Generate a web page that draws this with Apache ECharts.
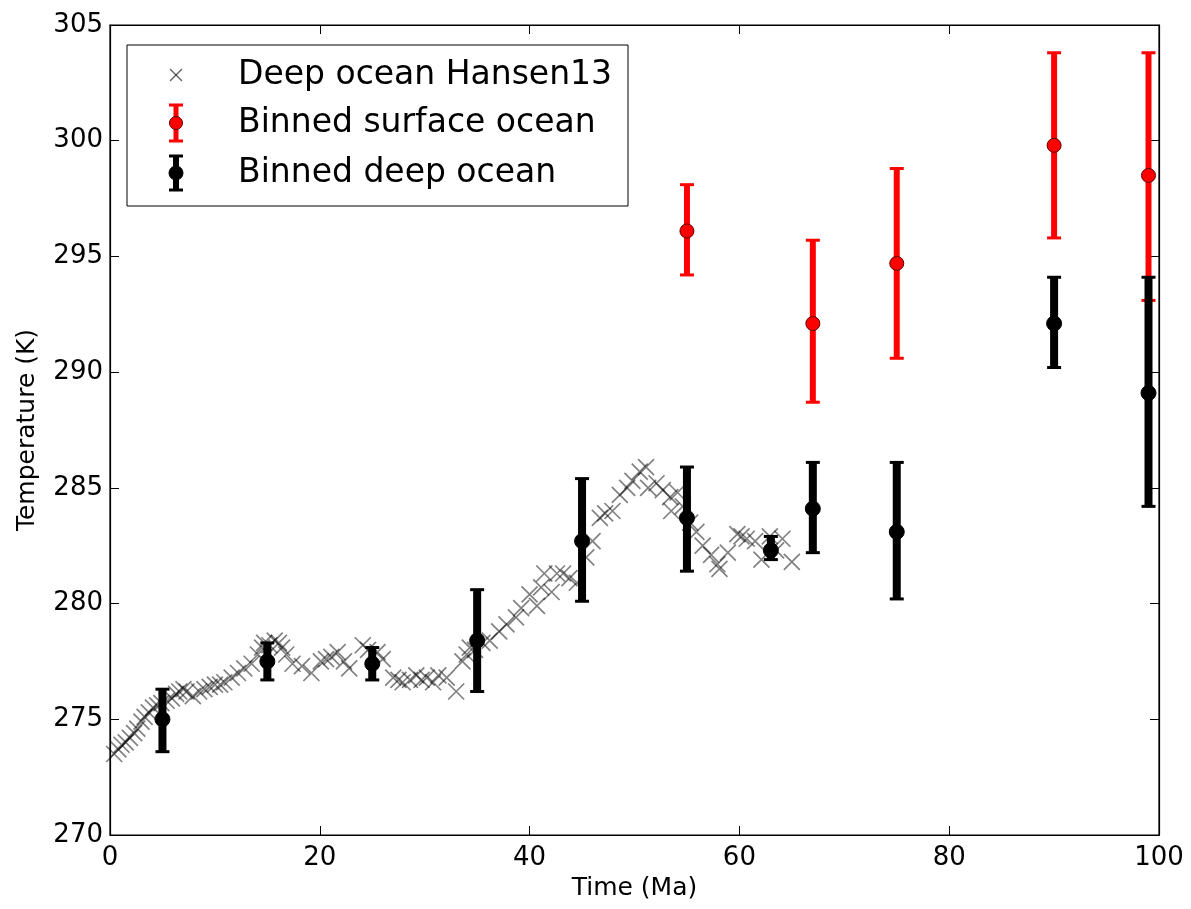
<!DOCTYPE html>
<html>
<head>
<meta charset="utf-8">
<script src="https://cdn.jsdelivr.net/npm/echarts@6/dist/echarts.min.js"></script>
<style>
html,body{margin:0;padding:0;background:#fff;}
#chart{width:1191px;height:909px;}
</style>
</head>
<body>
<div id="chart"></div>
<script>
// ---- Data ----
const xTicks = [0, 20, 40, 60, 80, 100];
const yTicks = [270, 275, 280, 285, 290, 295, 300, 305];

// Deep ocean Hansen13 (age Ma, temperature K)
const hansenAge = [0.4,0.8,1.1,1.5,1.9,2.3,2.6,3.0,3.3,3.7,4.1,4.5,4.9,5.4,5.9,6.3,6.6,7.0,7.3,7.9,8.5,9.0,9.5,10.0,10.5,10.9,11.6,12.2,12.8,13.5,14.1,14.5,14.7,15.2,15.7,16.1,16.4,16.8,17.4,18.3,19.2,20.1,20.6,21.1,21.7,22.3,22.8,24.1,24.6,25.5,26.0,27.0,27.5,27.9,28.6,29.2,29.7,30.2,30.8,31.3,32.1,33.0,33.6,34.0,34.3,34.8,35.5,36.2,37.1,37.8,38.7,39.2,40.0,40.7,41.1,41.4,42.1,42.6,43.2,43.8,44.5,45.4,46.0,46.7,47.2,47.9,48.6,49.3,49.8,50.5,51.1,51.3,52.1,52.7,53.4,53.5,54.1,54.6,55.3,55.9,56.5,57.3,57.9,58.1,58.9,59.8,60.2,60.7,61.5,62.1,62.9,63.5,64.1,65.0];
const hansenTemp = [273.5,273.7,273.9,274.0,274.2,274.4,274.6,274.9,275.1,275.3,275.5,275.6,275.7,275.8,275.9,276.1,276.2,276.3,276.2,276.0,276.2,276.3,276.4,276.5,276.5,276.6,276.8,277.0,277.2,277.4,277.8,278.1,278.3,278.2,278.4,278.3,278.1,277.8,277.4,277.3,277.0,277.5,277.6,277.7,277.9,277.5,277.2,278.2,278.0,277.9,277.6,276.8,276.7,276.6,276.7,276.9,276.7,276.8,276.6,276.9,276.8,276.2,277.5,277.8,278.1,278.0,278.3,278.4,278.8,279.1,279.4,279.8,280.4,279.9,280.7,281.3,280.5,281.3,281.3,281.1,280.9,282.0,282.7,283.7,283.9,284.0,284.7,285.0,285.3,285.7,285.9,285.0,285.2,284.9,284.6,284.0,284.8,284.2,283.5,283.1,282.5,282.1,281.7,281.5,282.2,283.0,282.9,282.8,282.7,281.9,282.9,282.3,282.8,281.8];

// Binned surface ocean
const surfAge  = [55, 67, 75, 90, 99];
const surfTemp = [296.1, 292.1, 294.7, 299.8, 298.5];
const surfLo   = [294.2, 288.7, 290.6, 295.8, 293.1];
const surfHi   = [298.1, 295.7, 298.8, 303.8, 303.8];

// Binned deep ocean
const deepAge  = [5, 15, 25, 35, 45, 55, 63, 67, 75, 90, 99];
const deepTemp = [275.0, 277.5, 277.4, 278.4, 282.7, 283.7, 282.3, 284.1, 283.1, 292.1, 289.1];
const deepLo   = [273.6, 276.7, 276.7, 276.2, 280.1, 281.4, 281.9, 282.2, 280.2, 290.2, 284.2];
const deepHi   = [276.3, 278.3, 278.1, 280.6, 285.4, 285.9, 282.9, 286.1, 286.1, 294.1, 294.1];

const legendLabels = ['Deep ocean Hansen13', 'Binned surface ocean', 'Binned deep ocean'];

// ---- Chart ----
const FONT = 'DejaVu Sans';
const chart = echarts.init(document.getElementById('chart'), null, {renderer: 'canvas'});

function errorBarRenderer(opts) {
  return function (params, api) {
    const x = api.value(0), y = api.value(1), lo = api.value(2), hi = api.value(3);
    const pLo = api.coord([x, lo]);
    const pHi = api.coord([x, hi]);
    const p = api.coord([x, y]);
    const cw = opts.capWidth / 2;
    return {
      type: 'group',
      children: [
        {type: 'line', shape: {x1: pLo[0], y1: pLo[1], x2: pHi[0], y2: pHi[1]},
          style: {stroke: opts.color, lineWidth: opts.barWidth}},
        {type: 'line', shape: {x1: pLo[0] - cw, y1: pLo[1], x2: pLo[0] + cw, y2: pLo[1]},
          style: {stroke: opts.color, lineWidth: opts.capThick}},
        {type: 'line', shape: {x1: pHi[0] - cw, y1: pHi[1], x2: pHi[0] + cw, y2: pHi[1]},
          style: {stroke: opts.color, lineWidth: opts.capThick}},
        {type: 'circle', shape: {cx: p[0], cy: p[1], r: opts.r},
          style: {fill: opts.fill, stroke: opts.edge, lineWidth: 1}}
      ]
    };
  };
}

const L = {x: 127, y: 45, w: 501, h: 161};
const rowY = [75, 123, 173];
const iconX = 176, textX = 238;

const option = {
  backgroundColor: '#fff',
  animation: false,
  grid: {left: 110, right: 32, top: 25, bottom: 74, show: true, borderColor: '#000', borderWidth: 1.2},
  xAxis: [{
    type: 'value', min: 0, max: 100, interval: 20, position: 'bottom',
    name: 'Time (Ma)', nameLocation: 'middle', nameGap: 40,
    nameTextStyle: {fontFamily: FONT, fontSize: 25, color: '#000'},
    axisLine: {show: true, onZero: false, lineStyle: {color: '#000', width: 1.2}},
    axisTick: {show: true, inside: true, length: 9, lineStyle: {color: '#000', width: 1}},
    axisLabel: {fontFamily: FONT, fontSize: 26, color: '#000', margin: 10},
    splitLine: {show: false}
  }, {
    type: 'value', min: 0, max: 100, interval: 20, position: 'top',
    axisLine: {show: true, onZero: false, lineStyle: {color: '#000', width: 1.2}},
    axisTick: {show: true, inside: true, length: 9, lineStyle: {color: '#000', width: 1}},
    axisLabel: {show: false}, splitLine: {show: false}
  }],
  yAxis: [{
    type: 'value', min: 270, max: 305, interval: 5, position: 'left',
    name: 'Temperature (K)', nameLocation: 'middle', nameGap: 70, nameRotate: 90,
    nameTextStyle: {fontFamily: FONT, fontSize: 25, color: '#000'},
    axisLine: {show: true, onZero: false, lineStyle: {color: '#000', width: 1.2}},
    axisTick: {show: true, inside: true, length: 9, lineStyle: {color: '#000', width: 1}},
    axisLabel: {fontFamily: FONT, fontSize: 26, color: '#000', margin: 7},
    splitLine: {show: false}
  }, {
    type: 'value', min: 270, max: 305, interval: 5, position: 'right',
    axisLine: {show: true, onZero: false, lineStyle: {color: '#000', width: 1.2}},
    axisTick: {show: true, inside: true, length: 9, lineStyle: {color: '#000', width: 1}},
    axisLabel: {show: false}, splitLine: {show: false}
  }],
  series: [{
    name: legendLabels[0],
    type: 'scatter',
    data: hansenAge.map((a, i) => [a, hansenTemp[i]]),
    symbol: 'path://M0,0L10,10M10,0L0,10',
    symbolSize: 16,
    itemStyle: {color: 'none', borderColor: 'rgba(0,0,0,0.62)', borderWidth: 1.7},
    z: 2
  }, {
    name: legendLabels[1],
    type: 'custom',
    data: surfAge.map((a, i) => [a, surfTemp[i], surfLo[i], surfHi[i]]),
    renderItem: errorBarRenderer({color: '#ff0000', barWidth: 6, capWidth: 14, capThick: 3, r: 7, fill: '#ff0000', edge: '#5a0000'}),
    encode: {x: 0, y: [1, 2, 3]},
    z: 3
  }, {
    name: legendLabels[2],
    type: 'custom',
    data: deepAge.map((a, i) => [a, deepTemp[i], deepLo[i], deepHi[i]]),
    renderItem: errorBarRenderer({color: '#000', barWidth: 8, capWidth: 14, capThick: 3, r: 7.5, fill: '#000', edge: '#000'}),
    encode: {x: 0, y: [1, 2, 3]},
    z: 4
  }],
  graphic: [
    {type: 'rect', shape: {x: L.x, y: L.y, width: L.w, height: L.h}, style: {fill: '#fff', stroke: '#000', lineWidth: 1}, z: 100},
    // row 1: cross
    {type: 'polyline', shape: {points: [[iconX - 6, rowY[0] - 6], [iconX + 6, rowY[0] + 6]]}, style: {stroke: 'rgba(0,0,0,0.6)', lineWidth: 1.4}, z: 101},
    {type: 'polyline', shape: {points: [[iconX + 6, rowY[0] - 6], [iconX - 6, rowY[0] + 6]]}, style: {stroke: 'rgba(0,0,0,0.6)', lineWidth: 1.4}, z: 101},
    // row 2: red error bar
    {type: 'line', shape: {x1: iconX, y1: rowY[1] - 18, x2: iconX, y2: rowY[1] + 18}, style: {stroke: '#ff0000', lineWidth: 5}, z: 101},
    {type: 'line', shape: {x1: iconX - 7, y1: rowY[1] - 18, x2: iconX + 7, y2: rowY[1] - 18}, style: {stroke: '#ff0000', lineWidth: 3}, z: 101},
    {type: 'line', shape: {x1: iconX - 7, y1: rowY[1] + 18, x2: iconX + 7, y2: rowY[1] + 18}, style: {stroke: '#ff0000', lineWidth: 3}, z: 101},
    {type: 'circle', shape: {cx: iconX, cy: rowY[1], r: 6.5}, style: {fill: '#ff0000', stroke: '#5a0000', lineWidth: 1}, z: 102},
    // row 3: black error bar
    {type: 'line', shape: {x1: iconX, y1: rowY[2] - 17, x2: iconX, y2: rowY[2] + 17}, style: {stroke: '#000', lineWidth: 6}, z: 101},
    {type: 'line', shape: {x1: iconX - 7, y1: rowY[2] - 17, x2: iconX + 7, y2: rowY[2] - 17}, style: {stroke: '#000', lineWidth: 3}, z: 101},
    {type: 'line', shape: {x1: iconX - 7, y1: rowY[2] + 17, x2: iconX + 7, y2: rowY[2] + 17}, style: {stroke: '#000', lineWidth: 3}, z: 101},
    {type: 'circle', shape: {cx: iconX, cy: rowY[2], r: 7}, style: {fill: '#000', stroke: '#000', lineWidth: 1}, z: 102},
    // texts
    {type: 'text', x: textX, y: rowY[0], style: {text: legendLabels[0], fontFamily: FONT, fontSize: 33, fill: '#000', verticalAlign: 'middle', align: 'left'}, z: 101},
    {type: 'text', x: textX, y: rowY[1], style: {text: legendLabels[1], fontFamily: FONT, fontSize: 33, fill: '#000', verticalAlign: 'middle', align: 'left'}, z: 101},
    {type: 'text', x: textX, y: rowY[2], style: {text: legendLabels[2], fontFamily: FONT, fontSize: 33, fill: '#000', verticalAlign: 'middle', align: 'left'}, z: 101}
  ]
};
chart.setOption(option);
</script>
</body>
</html>
